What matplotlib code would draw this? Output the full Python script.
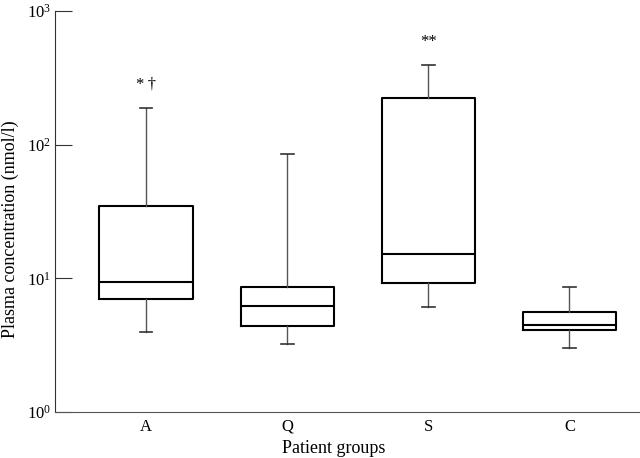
import matplotlib
matplotlib.use('Agg')
from matplotlib import pyplot as plt

plt.rcParams['font.family'] = ['Liberation Serif', 'DejaVu Serif']
plt.rcParams['mathtext.fontset'] = 'stix'

groups = ['A', 'Q', 'S', 'C']
whislo = [3.95, 3.2, 6.1, 3.0]
q1 = [7.0, 4.4, 9.2, 4.08]
med = [9.4, 6.2, 15.2, 4.45]
q3 = [34.7, 8.6, 224, 5.6]
whishi = [188, 85, 394, 8.6]
marks = ['*\u2009\u2020', '', '**', '']

stats = []
for i, g in enumerate(groups):
    stats.append(dict(label=g, whislo=whislo[i], q1=q1[i], med=med[i],
                      q3=q3[i], whishi=whishi[i], fliers=[]))

fig = plt.figure(figsize=(6.4, 4.58), dpi=100)
ax = fig.add_axes([55 / 640, 46 / 458, 585 / 640, 401 / 458])

ax.bxp(stats, positions=[1, 2, 3, 4], widths=0.66, showfliers=False,
       boxprops=dict(color='black', linewidth=1.5),
       medianprops=dict(color='black', linewidth=1.5),
       whiskerprops=dict(color='#555555', linewidth=1.0),
       capprops=dict(color='#333333', linewidth=1.2),
       capwidths=0.09)

ax.set_yscale('log')
ax.set_ylim(1, 1000)
ax.set_xlim(0.355, 4.5)
ax.yaxis.set_minor_locator(matplotlib.ticker.NullLocator())
ax.tick_params(axis='y', direction='in', length=12, labelsize=12, pad=3,
               color='#333333')
ax.tick_params(axis='x', length=0, labelsize=12, pad=5)

for i, m in enumerate(marks):
    if m:
        ax.text(i + 1, whishi[i] * 1.3, m, ha='center', va='bottom', fontsize=12)

ax.spines['top'].set_visible(False)
ax.spines['right'].set_visible(False)
ax.spines['left'].set_color('#333333')
ax.spines['bottom'].set_color('#555555')

ax.set_xlabel('Patient groups', fontsize=13)
ax.set_ylabel('Plasma concentration (nmol/l)', fontsize=13)
ax.xaxis.set_label_coords(0.477, -0.091)
ax.yaxis.set_label_coords(-0.077, 0.456)
ax.xaxis.label.set_va('center')
ax.yaxis.label.set_va('center')

fig.savefig('out.png', dpi=100)
